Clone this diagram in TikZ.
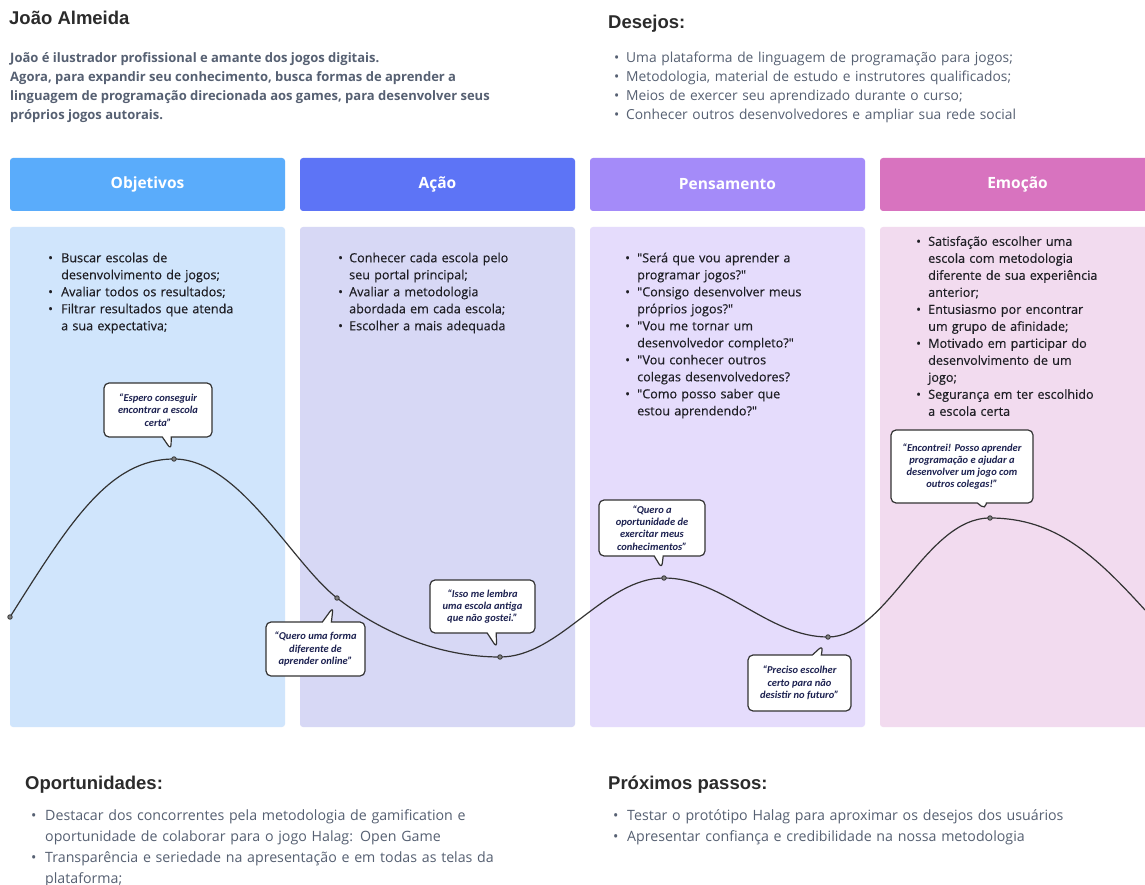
\documentclass[tikz,border=0pt]{standalone}
\usepackage{fontspec}
\setmainfont{Open Sans}
\newfontfamily\headfont{Liberation Sans}
\newfontfamily\semifont{Open Sans}[FakeBold=0.35]
\newfontfamily\quotefont{Carlito}
\usetikzlibrary{shapes.callouts}

\definecolor{objhead}{HTML}{5AACFB}
\definecolor{acahead}{HTML}{5D74F6}
\definecolor{penhead}{HTML}{A48BF9}
\definecolor{emohead}{HTML}{D873BF}
\definecolor{objbody}{HTML}{D0E5FC}
\definecolor{acabody}{HTML}{D7D8F5}
\definecolor{penbody}{HTML}{E5DCFC}
\definecolor{emobody}{HTML}{F2DBEF}
\definecolor{headtxt}{HTML}{2B2B2B}
\definecolor{desctxt}{HTML}{566072}
\definecolor{coltxt}{HTML}{1E1E24}
\definecolor{bubtxt}{HTML}{1C2150}
\definecolor{curve}{HTML}{333333}

\newlength\bulind
\newcommand{\bul}[1]{\noindent\hangindent=\bulind\hangafter=1\makebox[\bulind][l]{\textbullet}#1\par}

\begin{document}
\begin{tikzpicture}[x=1pt,y=-1pt,
    heading/.style={anchor=base west, inner sep=0pt, text=headtxt, font=\headfont\bfseries\fontsize{18.5}{22}\selectfont},
    headbox/.style={rounded corners=3pt, minimum width=275pt, minimum height=53pt, text=white, font=\bfseries\fontsize{15.5}{18}\selectfont},
    bodybox/.style={rounded corners=3pt, minimum width=275pt, minimum height=500pt},
    coltext/.style={anchor=north west, inner sep=0pt, text width=228pt, align=left, text=coltxt, font=\semifont\fontsize{12.6}{17}\selectfont},
    listtext/.style={anchor=north west, inner sep=0pt, text width=540pt, align=left, text=desctxt, font=\fontsize{13.8}{19}\selectfont},
    bubble/.style={rectangle callout, draw=curve, line width=1.2pt, fill=white, rounded corners=5pt, callout pointer width=9pt, callout pointer shorten=10pt, align=center, inner sep=2pt, text=bubtxt, font=\quotefont\bfseries\itshape\fontsize{10.5}{12.3}\selectfont},
    dot/.style={circle, draw=curve, fill=gray, inner sep=0pt, minimum size=4.5pt, line width=0.8pt},
    journey/.style={draw=curve, line width=1.2pt}]
    %%% PAGE %%%
    \fill[white] (0,0) rectangle (1145,885);
    \useasboundingbox (0,0) rectangle (1145,885);
    % persona %
    \node[heading] (name) at (9,25) {João Almeida};
    \node[anchor=north west, inner sep=0pt, align=left, text=desctxt, font=\bfseries\fontsize{13}{19}\selectfont] (desc) at (10,52)
        {João é ilustrador profissional e amante dos jogos digitais.\\
         Agora, para expandir seu conhecimento, busca formas de aprender a\\
         linguagem de programação direcionada aos games, para desenvolver seus\\
         próprios jogos autorais.};
    % desejos %
    \node[heading] (desejos) at (608,29) {Desejos:};
    \node[listtext] (deslist) at (614,52) {\setlength\bulind{12pt}%
        \bul{Uma plataforma de linguagem de programação para jogos;}
        \bul{Metodologia, material de estudo e instrutores qualificados;}
        \bul{Meios de exercer seu aprendizado durante o curso;}
        \bul{Conhecer outros desenvolvedores e ampliar sua rede social}};
    %%% COLUMNS %%%
    % headers %
    \node[headbox, fill=objhead] (hobj) at (147.5,184.5) {Objetivos};
    \node[headbox, fill=acahead] (haca) at (437.5,184.5) {Ação};
    \node[headbox, fill=penhead] (hpen) at (727.5,184.5) {Pensamento};
    \node[headbox, fill=emohead] (hemo) at (1017.5,184.5) {Emoção};
    % bodies %
    \node[bodybox, fill=objbody] (bobj) at (147.5,477) {};
    \node[bodybox, fill=acabody] (baca) at (437.5,477) {};
    \node[bodybox, fill=penbody] (bpen) at (727.5,477) {};
    \node[bodybox, fill=emobody] (bemo) at (1017.5,477) {};
    % column texts %
    \node[coltext] (tobj) at (48,252.5) {\setlength\bulind{13pt}%
        \bul{Buscar escolas de\newline desenvolvimento de jogos;}
        \bul{Avaliar todos os resultados;}
        \bul{Filtrar resultados que atenda\newline a sua expectativa;}};
    \node[coltext] (taca) at (338,252.5) {\setlength\bulind{11pt}%
        \bul{Conhecer cada escola pelo\newline seu portal principal;}
        \bul{Avaliar a metodologia\newline abordada em cada escola;}
        \bul{Escolher a mais adequada}};
    \node[coltext] (tpen) at (625,252.5) {\setlength\bulind{12pt}%
        \bul{"Será que vou aprender a\newline programar jogos?"}
        \bul{"Consigo desenvolver meus\newline próprios jogos?"}
        \bul{"Vou me tornar um\newline desenvolvedor completo?"}
        \bul{"Vou conhecer outros\newline colegas desenvolvedores?}
        \bul{"Como posso saber que\newline estou aprendendo?"}};
    \node[coltext] (temo) at (916,236) {\setlength\bulind{12pt}%
        \bul{Satisfação escolher uma\newline escola com metodologia\newline diferente de sua experiência\newline anterior;}
        \bul{Entusiasmo por encontrar\newline um grupo de afinidade;}
        \bul{Motivado em participar do\newline desenvolvimento de um\newline jogo;}
        \bul{Segurança em ter escolhido\newline a escola certa}};
    %%% JOURNEY CURVE %%%
    \coordinate (p0) at (10,617);
    \coordinate (p1) at (174,459);
    \coordinate (p2) at (337,598);
    \coordinate (p3) at (500,657);
    \coordinate (p4) at (664,578);
    \coordinate (p5) at (828,637);
    \coordinate (p6) at (990,518);
    \coordinate (p7) at (1145,610);
    \draw[journey] (p0) .. controls +(60,-95) and +(-65,0) .. (p1)
        .. controls +(65,0) and +(-45,-35) .. (p2)
        .. controls +(45,35) and +(-60,0) .. (p3)
        .. controls +(60,0) and +(-60,0) .. (p4)
        .. controls +(60,0) and +(-60,0) .. (p5)
        .. controls +(60,0) and +(-65,0) .. (p6)
        .. controls +(65,0) and +(-50,-55) .. (p7);
    \node[dot] (d0) at (p0) {};
    \node[dot] (d1) at (p1) {};
    \node[dot] (d2) at (p2) {};
    \node[dot] (d3) at (p3) {};
    \node[dot] (d4) at (p4) {};
    \node[dot] (d5) at (p5) {};
    \node[dot] (d6) at (p6) {};
    % speech bubbles %
    \node[bubble, minimum width=108pt, minimum height=54pt, callout absolute pointer={(d1.center)}] (b1) at (158,410)
        {“Espero conseguir\\ encontrar a escola\\ certa”};
    \node[bubble, minimum width=99pt, minimum height=54pt, callout absolute pointer={(d2.center)}] (b2) at (315.5,649)
        {“Quero uma forma\\ diferente de\\ aprender online”};
    \node[bubble, minimum width=105pt, minimum height=53pt, callout absolute pointer={(d3.center)}] (b3) at (482.5,606.5)
        {“Isso me lembra\\ uma escola antiga\\ que não gostei.”};
    \node[bubble, minimum width=106pt, minimum height=56pt, callout absolute pointer={(d4.center)}] (b4) at (652,528)
        {“Quero a\\ oportunidade de\\ exercitar meus\\ conhecimentos”};
    \node[bubble, minimum width=103pt, minimum height=56pt, callout absolute pointer={(d5.center)}] (b5) at (799.5,683)
        {“Preciso escolher\\ certo para não\\ desistir no futuro”};
    \node[bubble, minimum width=142pt, minimum height=73pt, callout absolute pointer={(d6.center)}] (b6) at (962,466.5)
        {“Encontrei! Posso aprender\\ programação e ajudar a\\ desenvolver um jogo com\\ outros colegas!”};
    %%% BOTTOM %%%
    \node[heading] (oport) at (25,789) {Oportunidades:};
    \node[listtext, font=\fontsize{14.2}{21}\selectfont] (oplist) at (31,809) {\setlength\bulind{14pt}%
        \bul{Destacar dos concorrentes pela metodologia de gamification e\newline oportunidade de colaborar para o jogo Halag: Open Game}
        \bul{Transparência e seriedade na apresentação e em todas as telas da\newline plataforma;}};
    \node[heading] (passos) at (608,789) {Próximos passos:};
    \node[listtext, font=\fontsize{14.2}{21}\selectfont] (palist) at (613,809) {\setlength\bulind{14pt}%
        \bul{Testar o protótipo Halag para aproximar os desejos dos usuários}
        \bul{Apresentar confiança e credibilidade na nossa metodologia}};
\end{tikzpicture}
\end{document}
